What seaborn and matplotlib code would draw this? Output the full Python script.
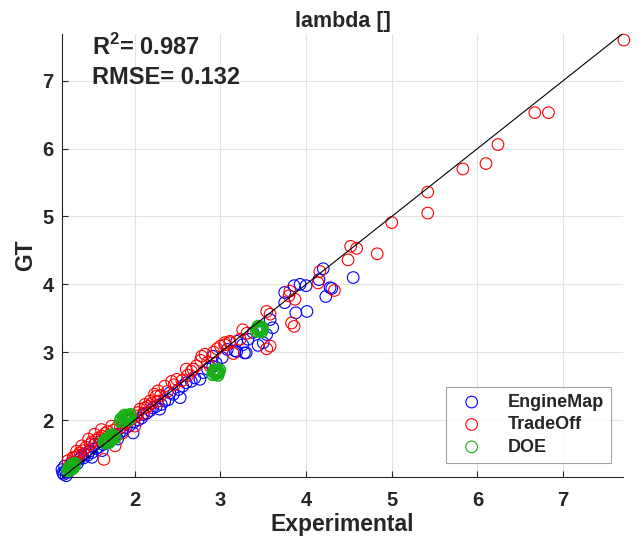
import matplotlib
matplotlib.use("Agg")
import matplotlib.pyplot as plt
import seaborn as sns
import pandas as pd

# EngineMap (blue)
engine_x = [1.15, 1.16, 1.18, 1.20, 1.17, 1.19, 1.22, 1.24, 1.26, 1.28, 1.30, 1.33, 1.35,
            1.38, 1.40, 1.42, 1.45, 1.47, 1.50, 1.50, 1.53, 1.55, 1.58, 1.61, 1.62, 1.63,
            1.66, 1.70, 1.73, 1.78, 1.80, 1.82, 1.86, 1.90, 1.94, 1.98, 1.99, 2.04, 2.08,
            2.10, 2.14, 2.18, 2.21, 2.25, 2.29, 2.31, 2.35, 2.39, 2.41, 2.45, 2.51, 2.53,
            2.56, 2.60, 2.66, 2.70, 2.76, 2.80, 2.85, 2.91, 2.95, 2.91, 3.02, 3.08, 3.17,
            3.19, 3.19, 3.26, 3.28, 3.30, 3.32, 3.38, 3.44, 3.50, 3.54, 3.58, 3.61, 3.75,
            3.75, 3.86, 3.88, 3.93, 4.00, 4.01, 4.15, 4.20, 4.23, 4.28, 4.30, 4.55]
engine_y = [1.27, 1.22, 1.32, 1.18, 1.20, 1.25, 1.23, 1.30, 1.37, 1.33, 1.38, 1.36, 1.42,
            1.47, 1.44, 1.50, 1.48, 1.54, 1.52, 1.45, 1.64, 1.58, 1.60, 1.69, 1.55, 1.64,
            1.66, 1.68, 1.75, 1.78, 1.72, 1.80, 1.84, 1.89, 1.92, 1.81, 1.97, 2.00, 2.03,
            2.08, 2.10, 2.14, 2.18, 2.20, 2.16, 2.23, 2.28, 2.30, 2.40, 2.38, 2.45, 2.33,
            2.50, 2.55, 2.57, 2.62, 2.60, 2.70, 2.75, 2.79, 2.84, 2.94, 2.92, 3.04, 3.02,
            3.01, 3.16, 3.11, 2.99, 2.99, 3.19, 3.29, 3.10, 3.14, 3.26, 3.48, 3.36, 3.73,
            3.88, 3.98, 3.58, 4.00, 3.98, 3.60, 4.07, 4.23, 3.82, 3.95, 3.94, 4.10]

# TradeOff (red)
trade_x = [1.22, 1.25, 1.28, 1.30, 1.32, 1.34, 1.36, 1.38, 1.40, 1.43, 1.46, 1.48, 1.50,
           1.53, 1.55, 1.58, 1.61, 1.62, 1.64, 1.65, 1.68, 1.70, 1.73, 1.75, 1.77, 1.80,
           1.83, 1.86, 1.88, 1.92, 1.96, 2.00, 2.02, 2.04, 2.06, 2.10, 2.12, 2.12, 2.15,
           2.18, 2.20, 2.23, 2.25, 2.27, 2.27, 2.30, 2.35, 2.38, 2.43, 2.46, 2.49, 2.55,
           2.60, 2.62, 2.66, 2.68, 2.72, 2.77, 2.78, 2.82, 2.85, 2.88, 2.92, 2.96, 3.00,
           3.05, 3.05, 3.11, 3.11, 3.15, 3.23, 3.26, 3.31, 3.54, 3.58, 3.54, 3.58, 3.80,
           3.81, 3.83, 3.86, 3.87, 4.14, 4.16, 4.33, 4.49, 4.52, 4.59, 4.83, 5.00, 5.42,
           5.42, 5.83, 6.10, 6.24, 6.67, 6.83, 7.71]
trade_y = [1.40, 1.36, 1.45, 1.45, 1.54, 1.48, 1.52, 1.62, 1.55, 1.60, 1.72, 1.64, 1.68,
           1.79, 1.70, 1.74, 1.86, 1.76, 1.42, 1.80, 1.83, 1.78, 1.91, 1.85, 1.62, 1.90,
           1.88, 1.81, 1.95, 1.98, 2.01, 1.91, 2.06, 2.11, 2.16, 2.10, 2.18, 2.23, 2.20,
           2.28, 2.25, 2.38, 2.35, 2.28, 2.43, 2.36, 2.50, 2.42, 2.57, 2.52, 2.60, 2.58,
           2.75, 2.66, 2.72, 2.75, 2.80, 2.88, 2.94, 2.97, 2.85, 2.79, 3.00, 3.05, 3.09,
           3.11, 3.14, 3.14, 3.16, 2.98, 3.19, 3.33, 3.28, 3.05, 3.09, 3.60, 3.56, 3.83,
           3.90, 3.43, 3.38, 3.78, 4.02, 4.19, 3.91, 4.36, 4.56, 4.53, 4.45, 4.91, 5.05,
           5.36, 5.70, 5.78, 6.06, 6.53, 6.53, 7.60]

# DOE (green) - tight clusters of repeated runs
doe_x = [1.22, 1.23, 1.24, 1.25, 1.26, 1.26, 1.27, 1.28, 1.29, 1.30, 1.24, 1.28,
         1.64, 1.66, 1.66, 1.68, 1.69, 1.71, 1.72, 1.74, 1.75, 1.77, 1.70, 1.73,
         1.83, 1.84, 1.86, 1.87, 1.89, 1.90, 1.91, 1.92, 1.94, 1.95, 1.88, 1.93,
         2.91, 2.92, 2.94, 2.95, 2.96, 2.97, 2.98, 2.99, 2.93, 2.97,
         3.42, 3.43, 3.45, 3.46, 3.47, 3.48, 3.49, 3.44, 3.48]
doe_y = [1.25, 1.29, 1.26, 1.31, 1.28, 1.33, 1.30, 1.35, 1.32, 1.36, 1.30, 1.29,
         1.68, 1.66, 1.71, 1.69, 1.73, 1.70, 1.75, 1.72, 1.77, 1.74, 1.67, 1.78,
         1.98, 2.02, 1.99, 2.04, 2.01, 2.05, 2.02, 2.07, 2.04, 2.08, 2.07, 2.00,
         2.67, 2.71, 2.68, 2.72, 2.69, 2.73, 2.70, 2.74, 2.74, 2.66,
         3.31, 3.35, 3.32, 3.36, 3.33, 3.37, 3.34, 3.38, 3.30]

groups = ["EngineMap", "TradeOff", "DOE"]
colors = {"EngineMap": "#0000ff", "TradeOff": "#ff0000", "DOE": "#14b014"}

df = pd.concat([
    pd.DataFrame({"Experimental": engine_x, "GT": engine_y, "set": "EngineMap"}),
    pd.DataFrame({"Experimental": trade_x, "GT": trade_y, "set": "TradeOff"}),
    pd.DataFrame({"Experimental": doe_x, "GT": doe_y, "set": "DOE"}),
], ignore_index=True)

lims = (1.15, 7.70)

sns.set_style("ticks")
plt.rcParams['font.family'] = ['Liberation Sans', 'DejaVu Sans']
plt.rcParams['font.weight'] = 'bold'
plt.rcParams['mathtext.fontset'] = 'custom'
plt.rcParams['mathtext.bf'] = 'Liberation Sans:bold'
plt.rcParams['mathtext.rm'] = 'Liberation Sans:bold'
plt.rcParams['xtick.direction'] = 'in'
plt.rcParams['ytick.direction'] = 'in'

fig = plt.figure(figsize=(6.39, 5.43), dpi=100)
ax = fig.add_axes([0.097, 0.1215, 0.878, 0.816])

for g in groups:
    sub = df[df["set"] == g]
    sns.scatterplot(data=sub, x="Experimental", y="GT", ax=ax, marker="o", s=70,
                    facecolors="none", edgecolor=colors[g],
                    linewidth=1.1 if g == "DOE" else 0.8,
                    label=g, zorder=3, clip_on=False)

# identity line
ax.plot(lims, lims, color="black", linewidth=0.8, zorder=4)

ax.set_xlim(lims)
ax.set_ylim(1.16, 7.69)
ax.set_xticks([2, 3, 4, 5, 6, 7])
ax.set_yticks([2, 3, 4, 5, 6, 7])
ax.grid(True, color="#e3e3e3", linewidth=0.8)
ax.set_axisbelow(True)
for side in ["top", "right"]:
    ax.spines[side].set_visible(False)
for side in ["left", "bottom"]:
    ax.spines[side].set_color("#262626")
    ax.spines[side].set_linewidth(0.8)
ax.tick_params(labelsize=14.5, colors="#262626", length=4, width=0.8)
ax.tick_params(axis="x", pad=10)
ax.tick_params(axis="y", pad=6)

ax.set_xlabel("Experimental", fontsize=16.5, fontweight="bold", color="#262626", labelpad=2)
ax.set_ylabel("GT", fontsize=16.5, fontweight="bold", color="#262626", labelpad=4)
ax.set_title("lambda []", fontsize=15.5, fontweight="bold", pad=5)

fig.text(0.144, 1 - 55 / 543, r"R$^{\mathbf{2}}$= 0.987", fontsize=17, fontweight="bold", va="baseline")
fig.text(0.144, 1 - 83.5 / 543, "RMSE= 0.132", fontsize=17, fontweight="bold", va="baseline")

leg = ax.legend(loc="lower right", bbox_to_anchor=(0.979, 0.032), borderaxespad=0,
                fontsize=13, frameon=True, fancybox=False, handletextpad=1.0,
                borderpad=0.4, labelspacing=0.3)
leg.get_frame().set_edgecolor("#8c8c8c")
leg.get_frame().set_linewidth(0.8)
for h in leg.legend_handles:
    h.set_linewidth(0.8)
for t in leg.get_texts():
    t.set_fontweight("bold")

fig.savefig("out.png", dpi=100)
